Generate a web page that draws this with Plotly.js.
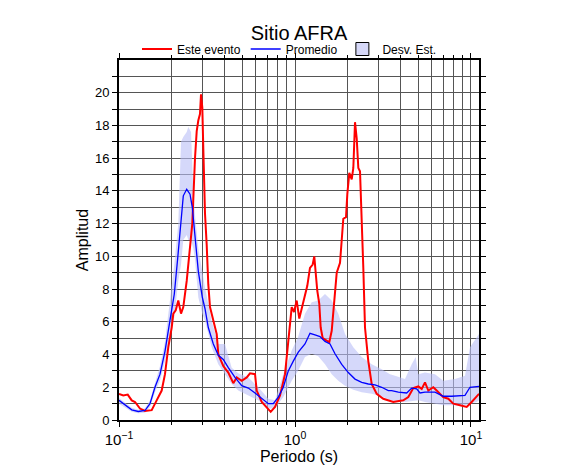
<!DOCTYPE html>
<html><head><meta charset="utf-8">
<script src="https://cdn.plot.ly/plotly-3.0.1.min.js"></script>
<style>html,body{margin:0;padding:0;background:#fff}</style>
</head><body><div id="chart" style="width:586px;height:475px"></div>
<script>
// Este evento
const periodEvento = [0.100,0.1058,0.1121,0.1181,0.1233,0.1316,0.1405,0.1534,0.1637,0.1748,
 0.1825,0.1906,0.1993,0.2035,0.2100,0.2172,0.2251,0.2319,0.2425,0.2532,
 0.2609,0.2703,0.2764,0.2822,0.2885,0.2924,0.2974,0.3013,0.3081,0.3150,
 0.3216,0.3289,0.3435,0.3591,0.3667,0.3914,0.4178,0.4461,0.4665,0.4981,
 0.5318,0.5552,0.5927,0.6061,0.6471,0.6908,0.7278,0.7700,0.8221,0.8776,
 0.9160,0.9578,0.9870,1.0225,1.0578,1.0915,1.1396,1.1745,1.2165,1.2603,
 1.2870,1.3158,1.3384,1.3740,1.3996,1.4368,1.5003,1.5666,1.6167,1.6663,
 1.7261,1.8022,1.8427,1.8816,1.9494,1.9829,2.0351,2.1002,2.1447,2.1927,
 2.2422,2.2897,2.3409,2.3933,2.4442,2.4988,2.6091,2.7276,2.9120,3.1745,
 3.6185,4.1234,4.4034,4.7014,5.0188,5.2470,5.4783,5.7204,6.1061,6.3837,
 6.9583,7.4302,7.9323,8.6596,9.4539,10.092,10.537,11.104];
const ampEvento = [1.6,1.5,1.55,1.2,1.1,0.7,0.55,0.6,1.2,1.8,
 2.8,4.45,5.65,6.5,6.7,7.3,6.5,6.9,8.5,10.5,
 12,16,17.65,18.3,18.7,19.9,19.1,16.6,12.6,10.7,
 8.3,6.9,6.1,5.25,4.0,3.3,2.9,2.25,2.6,2.4,
 2.6,2.85,2.8,1.8,1.1,0.8,0.5,0.8,1.5,2.8,
 4.85,6.9,6.6,7.3,6.2,6.8,7.7,8.2,9.3,9.5,
 10.0,8.9,7.9,7.1,5.65,5.0,4.85,4.75,5.45,7.3,
 9.0,9.6,11.35,12.3,12.4,13.8,15.1,14.7,15.4,18.2,
 17.2,15.4,15.2,12.4,9.3,5.65,3.6,2.2,1.6,1.3,
 1.1,1.2,1.4,1.95,2.05,1.9,2.3,1.8,2.0,1.8,
 1.4,1.3,1.0,0.9,0.8,1.1,1.3,1.6];

// Promedio
const periodProm = [0.100,0.1082,0.1181,0.1287,0.1405,0.1500,0.1601,0.1710,0.1825,0.1949,
 0.2062,0.2156,0.2251,0.2319,0.2425,0.2532,0.2609,0.2703,0.2822,0.2974,
 0.3081,0.3216,0.3435,0.3667,0.3914,0.4178,0.4561,0.4981,0.5430,0.5927,
 0.6471,0.7054,0.7529,0.8037,0.8581,0.9160,0.9779,1.0442,1.1396,1.2165,
 1.2988,1.3868,1.4807,1.5810,1.6880,1.8427,2.0086,2.1927,2.3933,2.6091,
 2.8480,3.1088,3.3892,3.5430,3.8637,4.3118,4.6035,4.9145,5.1311,5.4783,
 6.2443,6.9583,7.7680,9.2446,9.8700,10.537,11.104];
const ampProm = [1.2,0.9,0.62,0.52,0.58,1.0,2.0,2.8,4.2,6.1,
 7.7,9.9,12.2,13.7,14.1,13.8,13.0,11.35,9.1,7.5,
 6.8,5.65,4.65,3.95,3.7,3.2,2.6,2.1,1.95,1.65,
 1.3,1.0,1.0,1.4,2.0,3.0,3.6,4.15,4.65,5.3,
 5.2,5.1,4.8,4.65,4.05,3.4,2.9,2.5,2.3,2.2,
 2.15,2.0,1.8,1.8,1.7,1.65,1.95,1.9,1.65,1.7,
 1.7,1.45,1.45,1.5,2.0,2.05,2.05];

// Desv. Est. (banda)
const periodDesv = [0.100,0.1181,0.1287,0.1405,0.1500,0.1601,0.1710,0.1825,0.1949,0.2062,
 0.2172,0.2251,0.2319,0.2425,0.2477,0.2566,0.2643,0.2703,0.2822,0.2974,
 0.3081,0.3363,0.3666,0.4003,0.4367,0.4763,0.5430,0.6189,0.7054,0.7700,
 0.8581,0.9578,1.0399,1.1396,1.2441,1.3561,1.4807,1.6167,1.7620,1.9238,
 2.1447,2.3933,2.7276,3.1088,3.4655,3.7000,4.2170,4.6035,4.8507,5.0188,
 5.4783,6.2443,6.9583,8.1113,9.2446,9.8700,10.775,11.104];
const desvSup = [1.35,0.75,0.62,0.72,1.2,2.3,3.3,4.8,7.3,9.5,
 12,17.0,17.3,17.6,17.9,17.6,14,12.5,10.5,9.0,
 8.1,6.05,4.65,4.65,3.2,2.85,2.6,2.0,1.3,1.2,
 2.8,4.25,5.05,6.5,7.2,7.3,7.7,7.3,6.5,5.25,
 4.45,3.85,3.4,3.1,2.8,2.7,2.5,3.4,3.85,2.8,
 2.9,2.8,2.4,2.5,2.7,4.45,5.05,5.25];
const desvInf = [1.0,0.5,0.42,0.45,0.8,1.7,2.4,3.6,5.2,6.3,
 8.5,9.5,11.0,11.3,11.0,11.0,10.5,9.8,7.5,6.5,
 6.05,4.45,3.4,2.8,2.2,1.8,1.5,1.2,0.7,0.7,
 1.4,2.4,3.0,3.85,4.05,3.9,3.4,2.8,2.4,2.1,
 1.85,1.7,1.6,1.45,1.2,1.15,1.1,1.15,1.2,1.2,
 1.1,1.0,0.9,0.9,0.9,1.0,1.1,1.2];

const xTickVals = [0.1, 1, 10];
const xTickText = ['10<sup>−1</sup>', '10<sup>0</sup>', '10<sup>1</sup>'];
const xMinorVals = [0.2,0.3,0.4,0.5,0.6,0.7,0.8,0.9,2,3,4,5,6,7,8,9];
const yTickVals = [0,2,4,6,8,10,12,14,16,18,20];

const bandColor = 'rgba(185,190,246,0.6)';
const gridC = '#555';

const traces = [
  {x: periodDesv, y: desvInf, type:'scatter', mode:'lines', line:{width:0, color:bandColor}, showlegend:false, hoverinfo:'skip'},
  {x: periodDesv, y: desvSup, type:'scatter', mode:'lines', fill:'tonexty', fillcolor:bandColor, line:{width:0, color:bandColor}, showlegend:false, hoverinfo:'skip'},
  {x: periodEvento, y: ampEvento, type:'scatter', mode:'lines', name:'Este evento', line:{color:'#ff0000', width:2}},
  {x: periodProm, y: ampProm, type:'scatter', mode:'lines', name:'Promedio', line:{color:'#0000ff', width:1.3}},
  {x: [null], y: [null], type:'scatter', mode:'markers', name:'Desv. Est.', marker:{symbol:'square', size:13, color:'#d6d8f8', line:{color:'#000', width:1}}}
];

const layout = {
  width:586, height:475,
  margin:{l:119, r:107, t:60, b:55, pad:0},
  paper_bgcolor:'#fff', plot_bgcolor:'#fff',
  font:{family:'"Liberation Sans", Arial, sans-serif', color:'#000', size:12},
  title:{text:'Sitio AFRA', font:{size:20}, x:0.5, xref:'paper', xanchor:'center', y:1-33/475, yref:'container', yanchor:'middle'},
  showlegend:true,
  legend:{orientation:'h', traceorder:'normal', x:0.05, xanchor:'left', y:1+(60-49)/360, yanchor:'middle',
    font:{size:12}, bgcolor:'rgba(0,0,0,0)', tracegroupgap:0, borderwidth:0},
  xaxis:{type:'log', range:[-1, 1.0455], tickmode:'array', tickvals:xTickVals, ticktext:xTickText,
    ticks:'outside', ticklen:5, tickcolor:'#000', showline:true, linecolor:'#000', linewidth:2, mirror:'ticks',
    showgrid:true, gridcolor:gridC, gridwidth:1, zeroline:false, tickfont:{size:15},
    title:{text:'Periodo (s)', font:{size:16}, standoff:1},
    minor:{tickvals:xMinorVals, ticks:'outside', ticklen:3, tickcolor:'#000', showgrid:true, gridcolor:gridC, gridwidth:1}},
  yaxis:{range:[0,22], tickmode:'array', tickvals:yTickVals,
    ticks:'outside', ticklen:5, tickcolor:'#000', showline:true, linecolor:'#000', linewidth:2, mirror:'ticks',
    showgrid:true, gridcolor:gridC, gridwidth:1, zeroline:false, tickfont:{size:13},
    title:{text:'Amplitud', font:{size:16}, standoff:2},
    minor:{tick0:1, dtick:2, ticks:'outside', ticklen:5, tickcolor:'#000', showgrid:true, gridcolor:gridC, gridwidth:1}}
};

Plotly.newPlot('chart', traces, layout, {displayModeBar:false, staticPlot:true});
</script></body></html>
